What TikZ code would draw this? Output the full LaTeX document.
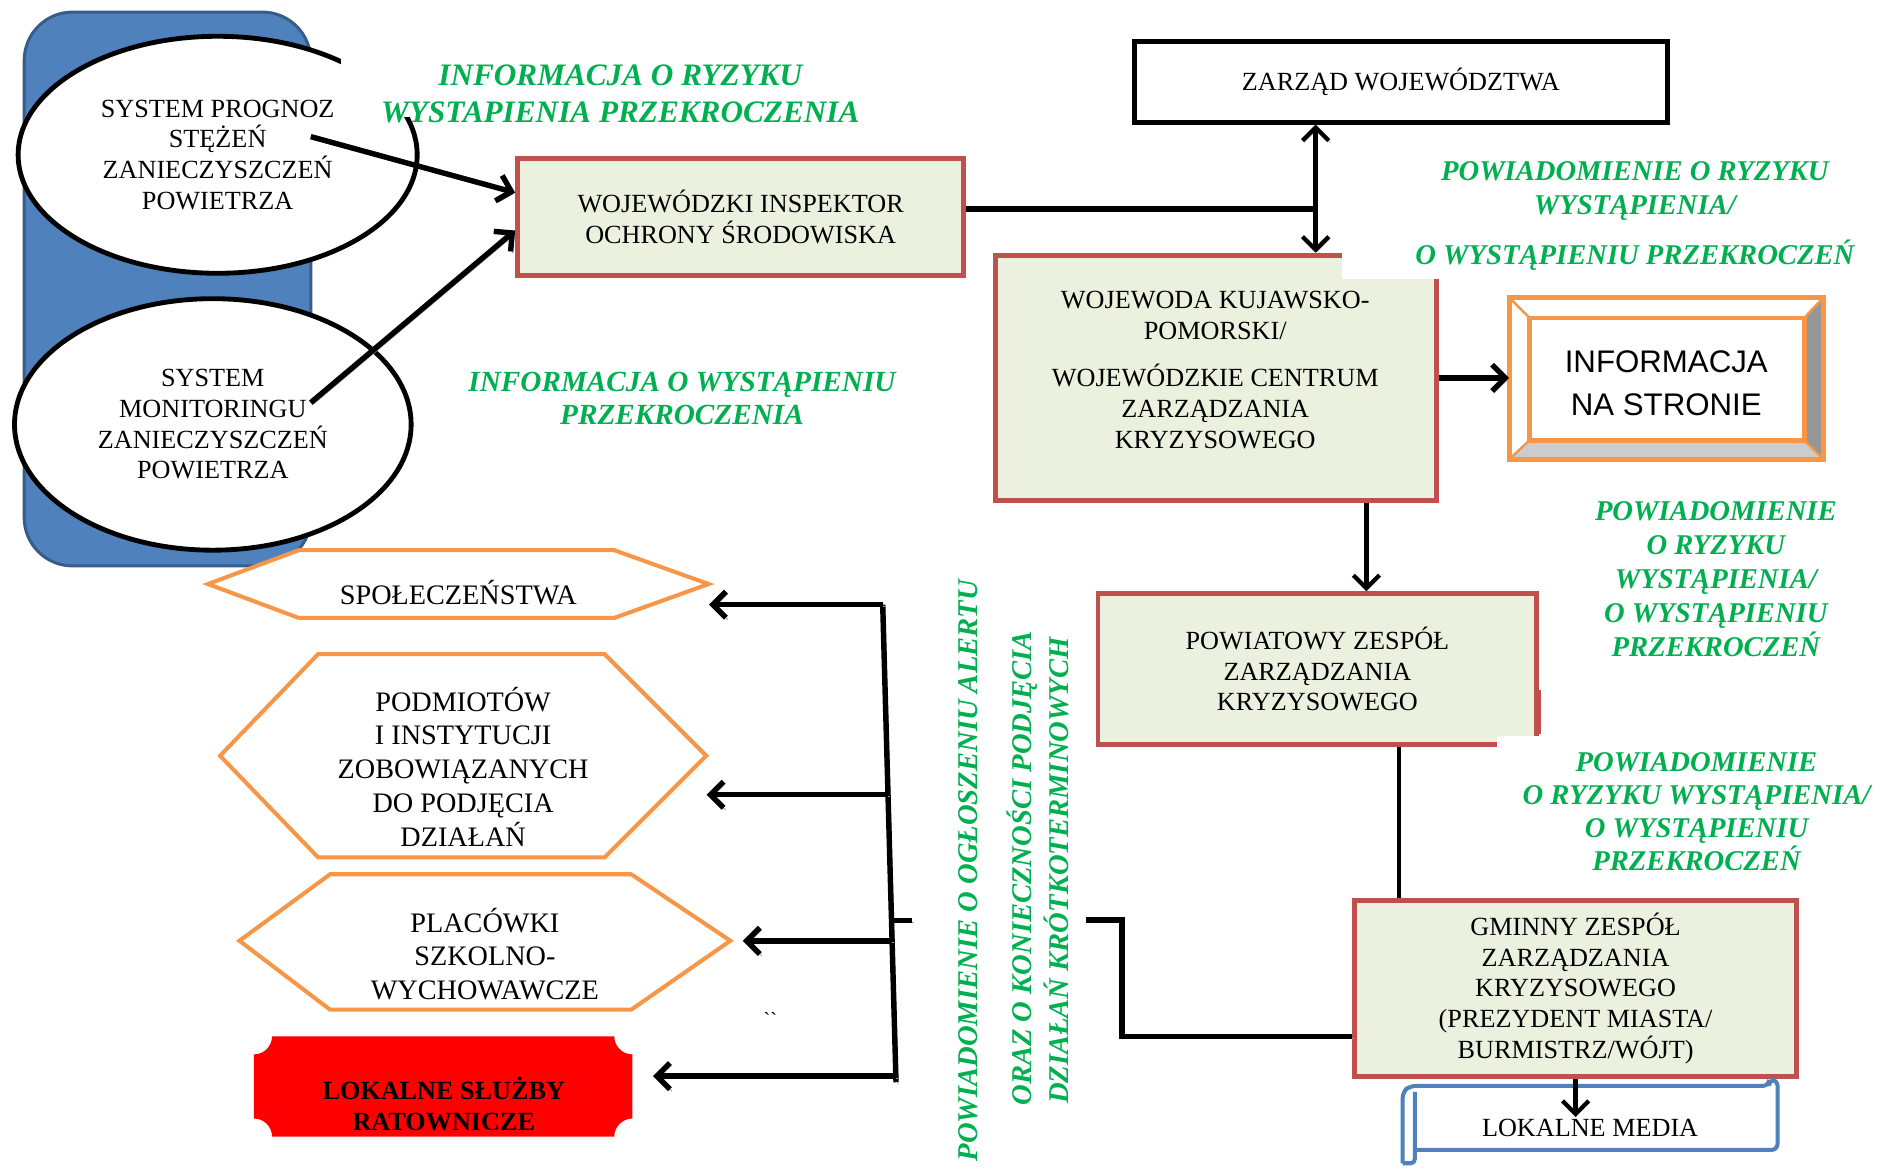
\documentclass[tikz,border=0pt]{standalone}
\usepackage{fontspec}
\setmainfont{Liberation Serif}
\newfontfamily\sansf{Liberation Sans}
\usetikzlibrary{shapes.geometric,arrows.meta,calc}
\definecolor{grn}{HTML}{00B050}
\definecolor{boxred}{HTML}{C0504D}
\definecolor{boxfill}{HTML}{EBF1DE}
\definecolor{orng}{HTML}{F79646}
\definecolor{blu}{HTML}{4F81BD}
\definecolor{bluedge}{HTML}{385D8A}
\newcommand\gfnt[2]{\fontsize{#1}{#2}\selectfont\bfseries\itshape}
\tikzset{
  >={Straight Barb[length=6.5pt,width=13pt]},
  every node/.style={font=\fontsize{13}{15.2}\selectfont},
  rbox/.style={draw=boxred, line width=2.4pt, fill=boxfill, align=center, inner sep=0pt},
  btxt/.style={align=center, inner sep=1pt},
  gtxt/.style={text=grn, align=center, inner sep=0pt},
  conn/.style={line width=2.7pt, preaction={draw=black!40, transform canvas={xshift=1pt,yshift=-1pt}}},
  thinconn/.style={line width=2.1pt},
  arr/.style={conn, ->},
  hexs/.style={draw=orng, line width=2pt, fill=white, line join=miter},
}
\begin{document}
\begin{tikzpicture}[x=0.6pt,y=-0.6pt]
\fill[white] (0,0) rectangle (1568,967);
\useasboundingbox (0,0) rectangle (1568,967);

% left system group
\node[draw=bluedge, fill=blu, line width=1.5pt, rounded corners=24pt,
      minimum width=142.2pt, minimum height=274.8pt, inner sep=0pt] (sysbg) at (138.5,239) {};
\node[draw, line width=2.4pt, fill=white, ellipse, minimum width=198pt, minimum height=117.6pt,
      inner sep=0pt, align=center] (e1) at (180,128) {SYSTEM PROGNOZ\\STĘŻEŃ\\ZANIECZYSZCZEŃ\\POWIETRZA};
\fill[white] (282,-2) rectangle (352,97);
\node[draw, line width=2.4pt, fill=white, ellipse, minimum width=196.8pt, minimum height=124.8pt,
      inner sep=0pt, align=center] (e2) at (176,351) {SYSTEM\\MONITORINGU\\ZANIECZYSZCZEŃ\\POWIETRZA};

% main boxes
\node[rbox, minimum width=221.4pt, minimum height=58.2pt] (wios) at (612.5,179.5)
  {WOJEWÓDZKI INSPEKTOR\\OCHRONY ŚRODOWISKA};
\node[draw, line width=2.4pt, fill=white, minimum width=264.6pt, minimum height=40.2pt] (zarzad)
  at (1158.5,67.5) {ZARZĄD WOJEWÓDZTWA};
\node[rbox, minimum width=219pt, minimum height=121.8pt] (woj) at (1005.5,312.5) {};
\fill[white] (1110,204) rectangle (1195,231);
\node[btxt] (wojt) at (1005,306) {WOJEWODA KUJAWSKO-\\POMORSKI/\\[8.4pt]WOJEWÓDZKIE CENTRUM\\ZARZĄDZANIA\\KRYZYSOWEGO};
\node[rbox, minimum width=217.8pt, minimum height=75pt] (pow) at (1089.5,553.5)
  {POWIATOWY ZESPÓŁ\\ZARZĄDZANIA\\KRYZYSOWEGO};
\fill[white] (1238,609) rectangle (1282,624);
\draw[boxred, line width=2.4pt] (1272,571) -- (1272,607);
\node[rbox, minimum width=219.6pt, minimum height=87pt] (gmi) at (1303,817.5)
  {GMINNY ZESPÓŁ\\ZARZĄDZANIA\\KRYZYSOWEGO\\(PREZYDENT MIASTA/\\BURMISTRZ/WÓJT)};

% bevel box
\fill[white] (1248,246) rectangle (1508,380);
\fill[black!41] (1508,246) -- (1508,380) -- (1492,364) -- (1492,263) -- cycle;
\fill[black!20] (1248,380) -- (1508,380) -- (1492,364) -- (1265,364) -- cycle;
\draw[orng, line width=1.2pt] (1248,246) -- (1265,263) (1508,246) -- (1492,263)
  (1248,380) -- (1265,364) (1508,380) -- (1492,364);
\draw[orng, line width=2.4pt] (1248,246) rectangle (1508,380);
\draw[orng, line width=2.4pt] (1265,263) rectangle (1492,364);
\node[align=center, inner sep=0pt, font=\sansf\fontsize{15.5}{21}\selectfont] (info) at (1378,317) {INFORMACJA\\NA STRONIE};
\coordinate (infow) at (1248,317);

% scroll
\draw[blu, line width=2pt, rounded corners=3pt]
  (1160,962) -- (1160,903) -- (1166,898) -- (1463,898) -- (1463,893) -- (1470,893) -- (1470,951) -- (1170,951);
\draw[blu, line width=2pt, rounded corners=2pt] (1170,903) -- (1170,962) -- (1160,962);
\node[btxt] (media) at (1315,933) {LOKALNE MEDIA};

% hexagons
\draw[hexs] (172,483) -- (247,455) -- (508,455) -- (586,483) -- (508,511) -- (247,511) -- cycle;
\node[btxt, minimum width=248.4pt, font=\fontsize{14}{16.8}\selectfont] (hex1) at (379,490) {SPOŁECZEŃSTWA};
\draw[hexs] (182,625) -- (263,541) -- (500,541) -- (584,625) -- (500,709) -- (263,709) -- cycle;
\node[btxt, minimum width=241.2pt, font=\fontsize{14}{16.8}\selectfont] (hex2) at (383,634)
  {PODMIOTÓW\\I INSTYTUCJI\\ZOBOWIĄZANYCH\\DO PODJĘCIA\\DZIAŁAŃ};
\draw[hexs] (198,778) -- (273,723) -- (522,723) -- (604,778) -- (522,835) -- (273,835) -- cycle;
\node[btxt, minimum width=243.6pt, font=\fontsize{14}{16.8}\selectfont] (hex3) at (401,789)
  {PLACÓWKI\\SZKOLNO-\\WYCHOWAWCZE};

% red plaque
\fill[red] (225,857) -- (508,857) .. controls (508,865.25) and (514.75,872) .. (523,872)
  -- (523,925) .. controls (514.75,925) and (508,931.75) .. (508,940)
  -- (225,940) .. controls (225,931.75) and (218.25,925) .. (210,925)
  -- (210,872) .. controls (218.25,872) and (225,865.25) .. (225,857) -- cycle;
\node[minimum width=187.8pt, minimum height=49.8pt, inner sep=0pt] (red) at (366.5,898.5) {};
\node[btxt, font=\fontsize{13}{15.2}\selectfont\bfseries] (redt) at (367,913) {LOKALNE SŁUŻBY\\RATOWNICZE};
\node[inner sep=0pt, font=\fontsize{10}{10}\selectfont] (tick) at (637,843) {\textasciigrave\textasciigrave};

% connectors
\coordinate (s1) at (257,113);
\coordinate (s2) at (257,333);
\draw[arr] (s1) -- ($(wios.north west)!0.3!(wios.south west)$);
\draw[arr] (s2) -- ($(wios.north west)!0.61!(wios.south west)$);
\coordinate (j) at (1088,173);
\draw[conn] (wios.east |- j) -- (j);
\draw[thinconn, <->, preaction={draw=black!40, transform canvas={xshift=0.8pt,yshift=-0.8pt}}]
  (j |- zarzad.south) -- (j |- woj.north);
\draw[arr] (woj.east) -- (woj.east -| infow);
\path (woj.south) ++(124.5,0) coordinate (wp);
\draw[thinconn, ->] (wp) -- (wp |- pow.north);
\path (pow.south) ++(67.5,0) coordinate (pg);
\draw[thinconn] (pg) -- (pg |- gmi.north);
\draw[thinconn, ->] (gmi.south) -- (gmi.south |- media.north);
\coordinate (gend) at (898,761);
\draw[conn] ([yshift=-23.7pt]gmi.west) -| ([xshift=18pt]gend) -- (gend);

% bracket
\coordinate (bt) at (730,500);
\coordinate (bb) at (741,895);
\draw[conn] (bt) -- (bb);
\coordinate (b2) at ($(bt)!0.398!(bb)$);
\coordinate (b3) at ($(bt)!0.704!(bb)$);
\coordinate (b4) at ($(bt)!0.987!(bb)$);
\coordinate (b5) at ($(bt)!0.661!(bb)$);
\draw[arr] (bt) -- (bt -| hex1.east);
\draw[arr] (b2) -- (b2 -| hex2.east);
\draw[arr, shorten >=6pt] (b3) -- (b3 -| hex3.east);
\draw[arr, shorten >=10pt] (b4) -- (b4 -| red.east);
\draw[conn] (b5) -- ++(17,0) coordinate (bstub);

% green texts
\node[gtxt, font=\gfnt{15.5}{18.6}] (g1) at (513,77.5) {INFORMACJA O RYZYKU\\WYSTAPIENIA PRZEKROCZENIA};
\node[gtxt, font=\gfnt{14.5}{16.2}] (g2) at (564,329.5) {INFORMACJA O WYSTĄPIENIU\\PRZEKROCZENIA};
\node[gtxt, font=\gfnt{14.2}{16.8}] (g3) at (1352,178.5) {POWIADOMIENIE O RYZYKU\\WYSTĄPIENIA/\\[7.8pt]O WYSTĄPIENIU PRZEKROCZEŃ};
\node[gtxt, font=\gfnt{14.2}{16.8}] (g4) at (1419,479) {POWIADOMIENIE\\O RYZYKU\\WYSTĄPIENIA/\\O WYSTĄPIENIU\\PRZEKROCZEŃ};
\node[gtxt, font=\gfnt{14.2}{16.4}] (g5) at (1403,671) {POWIADOMIENIE\\O RYZYKU WYSTĄPIENIA/\\O WYSTĄPIENIU\\PRZEKROCZEŃ};
\node[gtxt, font=\gfnt{14.2}{16.8}, rotate=90] (v1) at (801,720) {POWIADOMIENIE O OGŁOSZENIU ALERTU};
\node[gtxt, font=\gfnt{14.2}{16.8}, rotate=90] (v2) at (845,718) {ORAZ O KONIECZNOŚCI PODJĘCIA};
\node[gtxt, font=\gfnt{14.2}{16.8}, rotate=90] (v3) at (874,720) {DZIAŁAŃ KRÓTKOTERMINOWYCH};
\end{tikzpicture}
\end{document}
